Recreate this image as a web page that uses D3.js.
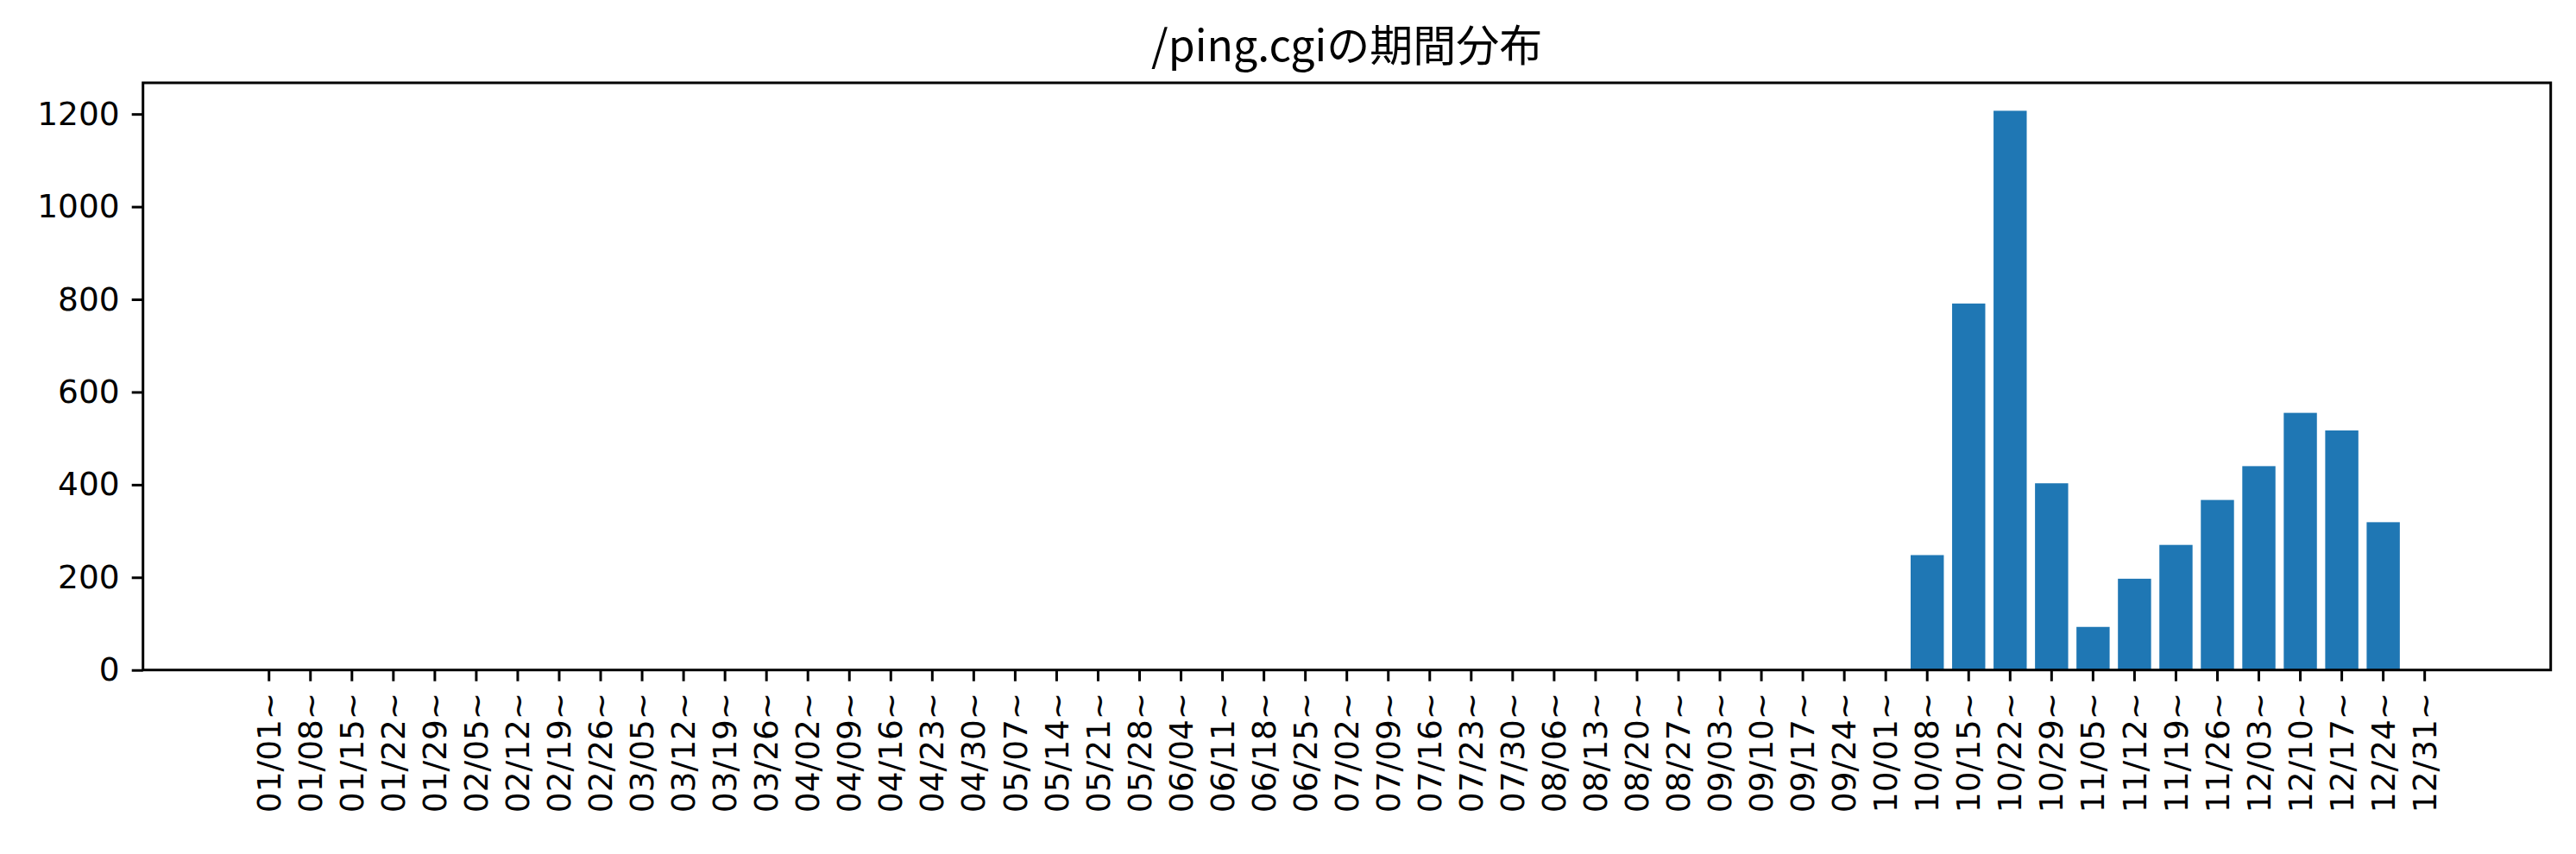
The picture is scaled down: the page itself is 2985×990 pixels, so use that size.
<!DOCTYPE html>
<html>
<head>
<meta charset="utf-8">
<script src="https://cdn.jsdelivr.net/npm/d3@7"></script>
<style>
  html, body { margin: 0; padding: 0; background: #fff; }
  svg { display: block; }
</style>
</head>
<body>
<svg id="chart" width="2985" height="990"></svg>
<script>
const titleText = "/ping.cgiの期間分布";
const categories = [
  "01/01~","01/08~","01/15~","01/22~","01/29~","02/05~","02/12~","02/19~","02/26~",
  "03/05~","03/12~","03/19~","03/26~","04/02~","04/09~","04/16~","04/23~","04/30~",
  "05/07~","05/14~","05/21~","05/28~","06/04~","06/11~","06/18~","06/25~","07/02~",
  "07/09~","07/16~","07/23~","07/30~","08/06~","08/13~","08/20~","08/27~","09/03~",
  "09/10~","09/17~","09/24~","10/01~","10/08~","10/15~","10/22~","10/29~","11/05~",
  "11/12~","11/19~","11/26~","12/03~","12/10~","12/17~","12/24~","12/31~"
];
const values = [
  0,0,0,0,0,0,0,0,0,
  0,0,0,0,0,0,0,0,0,
  0,0,0,0,0,0,0,0,0,
  0,0,0,0,0,0,0,0,0,
  0,0,0,0,248,791,1207,403,93,
  197,270,367,440,555,517,319,0
];
const yTicks = [0,200,400,600,800,1000,1200];

(function () {
const mLeft = 165.7, mRight = 2955.7, mTop = 96, mBottom = 776.7;
const svg = d3.select("#chart");

const x = d3.scaleBand().domain(categories).range([mLeft, mRight])
  .paddingInner(0.2).paddingOuter(2.64);
const yMax = d3.max(values) * 1.05;
const y = d3.scaleLinear().domain([0, yMax]).range([mBottom, mTop]);

// bars
svg.append("g").selectAll("rect").data(categories).join("rect")
  .attr("x", d => x(d))
  .attr("width", x.bandwidth())
  .attr("y", (d, i) => y(values[i]))
  .attr("height", (d, i) => y(0) - y(values[i]))
  .attr("fill", "#1f77b4");

const tickFont = "DejaVu Sans, sans-serif";
const tickSize = 37.5;

// x axis
const xAxis = svg.append("g").attr("transform", `translate(0,${mBottom})`)
  .call(d3.axisBottom(x).tickSize(13).tickPadding(13));
xAxis.select(".domain").remove();
xAxis.selectAll(".tick line").attr("stroke", "#000").attr("stroke-width", 3);
xAxis.selectAll(".tick text")
  .attr("font-family", tickFont).attr("font-size", tickSize).attr("fill", "#000")
  .attr("transform", "rotate(-90)")
  .attr("text-anchor", "end")
  .attr("x", -26).attr("y", 0).attr("dy", "0.35em");

// y axis
const yAxis = svg.append("g").attr("transform", `translate(${mLeft},0)`)
  .call(d3.axisLeft(y).tickValues(yTicks).tickSize(13).tickPadding(14).tickFormat(d3.format("d")));
yAxis.select(".domain").remove();
yAxis.selectAll(".tick line").attr("stroke", "#000").attr("stroke-width", 3);
yAxis.selectAll(".tick text")
  .attr("font-family", tickFont).attr("font-size", tickSize).attr("fill", "#000");

// frame
svg.append("rect").attr("x", mLeft).attr("y", mTop)
  .attr("width", mRight - mLeft).attr("height", mBottom - mTop)
  .attr("fill", "none").attr("stroke", "#000").attr("stroke-width", 3);

// title
svg.append("text").attr("x", (mLeft + mRight) / 2).attr("y", 71)
  .attr("text-anchor", "middle")
  .attr("font-family", "Noto Sans CJK JP, sans-serif").attr("font-size", 50)
  .attr("fill", "#000")
  .text(titleText);
})();
</script>
</body>
</html>
